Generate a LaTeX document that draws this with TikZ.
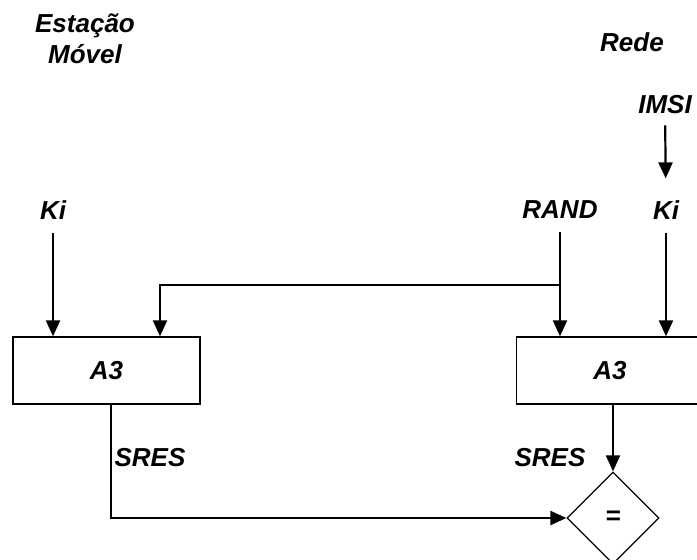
\documentclass[tikz,border=0pt]{standalone}
\usepackage{fontspec}
\setmainfont{Liberation Sans}
\usetikzlibrary{arrows.meta,calc,positioning,shapes.geometric}

\begin{document}
\begin{tikzpicture}[x=1pt,y=-1pt,
    font=\fontsize{26}{31}\selectfont\bfseries\itshape,
    lbl/.style={inner sep=0pt},
    algbox/.style={draw,line width=1.3pt,minimum width=187pt,minimum height=67pt,inner sep=0pt},
    cmpbox/.style={draw,diamond,line width=1.3pt,minimum width=92pt,minimum height=92pt,inner sep=0pt},
    ln/.style={line width=2.2pt},
    arr/.style={ln,-{Triangle[length=16pt,width=14pt]}}]
  \useasboundingbox (0,0) rectangle (697,560);
  % sides
  \node[lbl,align=center] (ms) at (85,39) {Estação\\Móvel};
  \node[lbl] (rede) at (632,42) {Rede};
  % inputs
  \node[lbl] (imsi) at (665,105) {IMSI};
  \node[lbl] (kil) at (53,210) {Ki};
  \node[lbl] (rand) at (560,210) {RAND};
  \node[lbl] (kir) at (666,210) {Ki};
  % algorithm blocks and comparison
  \node[algbox] (a3l) at (106.5,370.5) {A3};
  \node[algbox] (a3r) at (610,370.5) {A3};
  \node[cmpbox] (eq) at (613,518) {=};
  \node[lbl] (sresl) at (150,458) {SRES};
  \node[lbl] (sresr) at (550,458) {SRES};
  \coordinate (split) at (560,285);

  \draw[arr,shorten <=11pt,shorten >=22pt] (imsi) -- (kir);
  \draw[arr,shorten <=13pt] (kil) -- (kil |- a3l.north);
  \draw[ln,shorten <=13pt] (rand) -- (split);
  \draw[arr] (split) -- (rand |- a3r.north);
  \draw[arr] (split) -| ([xshift=53.5pt]a3l.north);
  \draw[arr,shorten <=13pt] (kir) -- (kir |- a3r.north);
  \draw[arr] ([xshift=4.5pt]a3l.south) |- (eq.west);
  \draw[arr] (eq.north |- a3r.south) -- (eq.north);
\end{tikzpicture}
\end{document}
